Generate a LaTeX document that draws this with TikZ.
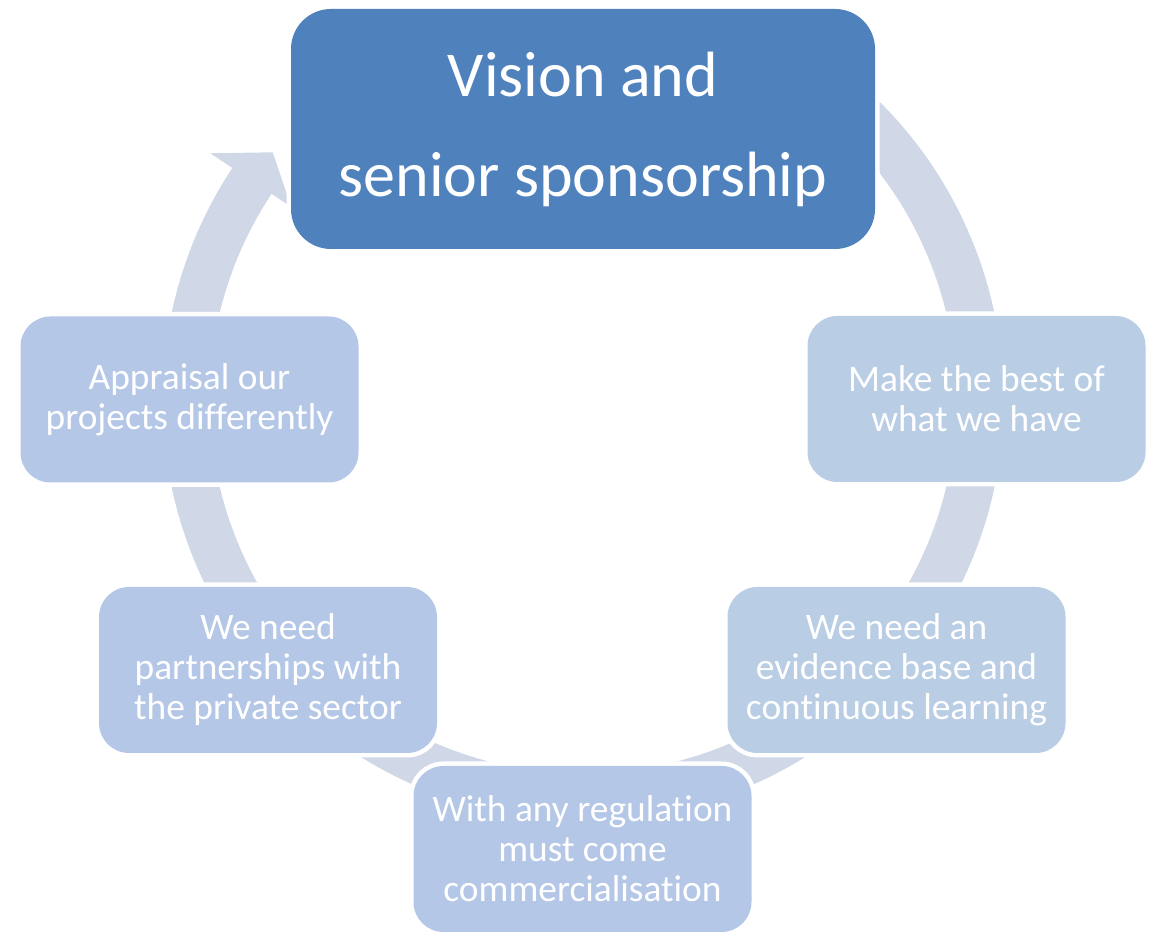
\documentclass[tikz,border=0pt]{standalone}
\usepackage{fontspec}
\setmainfont{Carlito}[Ligatures=CommonOff]
\definecolor{topc}{RGB}{79,129,189}
\definecolor{leftc}{RGB}{180,199,231}
\definecolor{rightc}{RGB}{185,205,229}
\definecolor{ringc}{RGB}{208,216,232}
\begin{document}
\begin{tikzpicture}[x=1pt,y=1pt,
  box/.style={rectangle, rounded corners=30pt, minimum width=338pt, minimum height=166pt,
    inner sep=0pt, align=center, text=white, font=\fontsize{37.4}{40}\selectfont,
    preaction={draw=white, line width=9pt}},
  topbox/.style={box, rounded corners=40pt, minimum width=584pt, minimum height=240pt,
    font=\fontsize{64}{100}\selectfont, fill=topc}
]
\useasboundingbox (0,0) rectangle (1153,933);
\begin{scope}[shift={(583,533)}]
  \fill[ringc] (60:420.5) arc[start angle=60, end angle=-213.5, radius=420.5]
    -- (146.5:447) -- (141.4:397) -- (146.5:350) -- (146.5:373.5)
    arc[start angle=146.5, end angle=420, radius=373.5] -- cycle;
\end{scope}
\node[topbox] (top) at (583,804) {Vision and\\senior sponsorship};
\node[box, fill=rightc] (make) at (976.5,534) {Make the best of\\what we have};
\node[box, fill=rightc] (evidence) at (896.5,263) {We need an\\evidence base and\\continuous learning};
\node[box, fill=leftc] (regulation) at (582.5,84) {With any regulation\\must come\\commercialisation};
\node[box, fill=leftc] (partner) at (268,263) {We need\\partnerships with\\the private sector};
\node[box, fill=leftc] (appraisal) at (189.5,533.5) {Appraisal our\\projects differently};
\end{tikzpicture}
\end{document}
